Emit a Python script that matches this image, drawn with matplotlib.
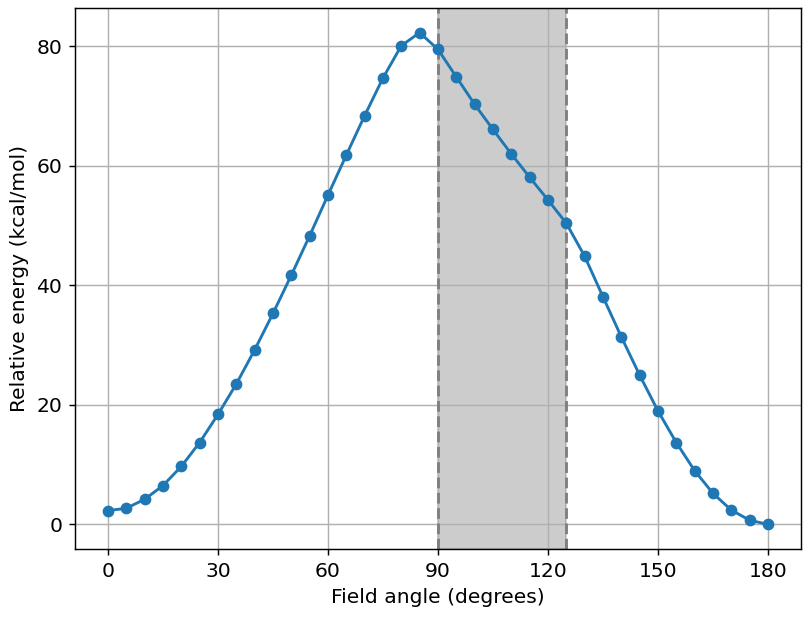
import numpy as np
import matplotlib
matplotlib.use("Agg")
import matplotlib.pyplot as plt

# field angle scan, energies
angles = list(range(0, 181, 5))
energy = [2.3, 2.7, 4.2, 6.5, 9.7, 13.7, 18.4, 23.5, 29.2, 35.3,
          41.7, 48.3, 55.1, 61.8, 68.4, 74.7, 80.1, 82.3, 79.5, 74.9,
          70.3, 66.1, 62.0, 58.1, 54.3, 50.4, 44.9, 38.1, 31.4, 25.0,
          19.0, 13.7, 9.0, 5.2, 2.4, 0.7, 0.0]
region = (90, 125)
xticks = [0, 30, 60, 90, 120, 150, 180]

plt.rcParams["font.size"] = 11.2

fig, ax = plt.subplots(figsize=(809 / 130, 618 / 130), dpi=130)
fig.subplots_adjust(left=0.0927, right=0.990, top=0.987, bottom=0.1117)

ax.axvspan(region[0], region[1], color="gray", alpha=0.4)
ax.axvline(region[0], color="gray", ls="--", lw=1.6)
ax.axvline(region[1], color="gray", ls="--", lw=1.6)

ax.plot(angles, energy, "o-", color="#1f77b4", lw=1.6, ms=5.5)

ax.set_xticks(xticks)
ax.grid(True)
ax.set_xlabel("Field angle (degrees)")
ax.set_ylabel("Relative energy (kcal/mol)")

fig.savefig("out.png", dpi=130)
